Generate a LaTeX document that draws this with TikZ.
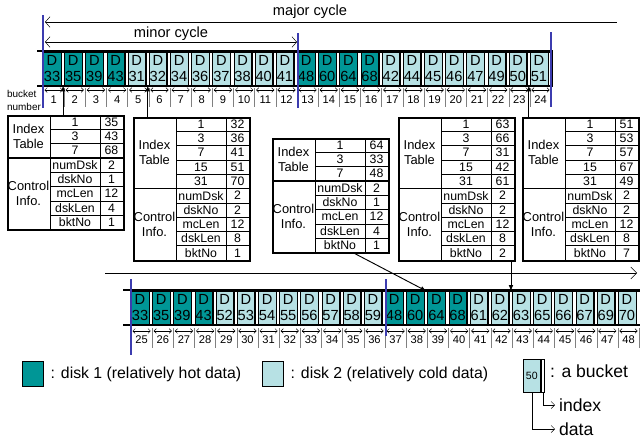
\documentclass[tikz,border=0pt]{standalone}
\usepackage{fontspec}
\setmainfont{Liberation Sans}
\usetikzlibrary{arrows.meta}

\definecolor{hot}{RGB}{0,150,150}
\definecolor{cold}{RGB}{183,225,228}
\definecolor{cyc}{RGB}{60,60,175}

\tikzset{
  cell/.style={draw, thin, minimum width=0.528cm, minimum height=0.99cm, inner sep=0pt, align=center, font=\fontsize{12.5}{14}\selectfont},
  idx/.style={draw, thin, fill=white, minimum width=0.107cm, minimum height=0.99cm, inner sep=0pt, anchor=west},
  bkt/.style={thin, {Straight Barb[length=2pt,width=4pt]}-{Straight Barb[length=2pt,width=4pt]}},
  bsep/.style={gray, thin},
  bnum/.style={font=\fontsize{9.5}{10}\selectfont, inner sep=0pt},
  rail/.style={line width=2pt},
  cycline/.style={cyc, line width=1.6pt},
  spanarr/.style={thin, {Straight Barb[length=4pt,width=9pt]}-{Straight Barb[length=4pt,width=9pt]}},
  tkey/.style={minimum width=1.5cm, minimum height=0.429cm, inner sep=0pt, font=\fontsize{10.5}{12}\selectfont},
  tval/.style={tkey, minimum width=0.69cm},
  tlab/.style={align=center, font=\fontsize{11}{13}\selectfont},
  infotab/.style={draw, line width=1.6pt, minimum width=3.48cm, inner sep=0pt, anchor=north west},
  conn/.style={line width=0.8pt, -{Latex[length=5pt,width=4pt]}},
  legtext/.style={anchor=west, font=\fontsize{13.5}{15}\selectfont},
  bigtext/.style={anchor=west, font=\fontsize{15}{17}\selectfont},
  legarr/.style={thin, -{Straight Barb[length=3pt,width=6pt]}}
}

% x, y, name, number of index rows, index rows, control rows
\newcommand{\infotable}[6]{%
  \pgfmathsetmacro\tabi{#4*14.3}
  \pgfmathsetmacro\tabh{(#4+5)*14.3}
  \node[infotab, minimum height=\tabh*0.03cm] (#3) at (#1,#2) {};
  \begin{scope}[shift={(#1,#2)}]
    \foreach \k/\v [count=\r] in {#5} {
      \node[tkey] at (68,\r*14.3-7.15) {\k};
      \node[tval] at (104.5,\r*14.3-7.15) {\v};
      \draw[thin] (43,\r*14.3) -- (116,\r*14.3);
    }
    \foreach \k/\v [count=\r] in {#6} {
      \node[tkey] (#3c\r) at (68,\tabi+\r*14.3-7.15) {\k};
      \node[tval] at (104.5,\tabi+\r*14.3-7.15) {\v};
      \draw[thin] (43,\tabi+\r*14.3) -- (116,\tabi+\r*14.3);
    }
    \draw[thin] (43,0) -- (43,\tabh);
    \draw[thin] (93,0) -- (93,\tabh);
    \draw[line width=1.6pt] (0,\tabi) -- (116,\tabi);
    \node[tlab] at (21.5,\tabi/2) {Index\\Table};
    \node[tlab] at (21.5,\tabi+35.75) {Control\\Info.};
  \end{scope}}

\begin{document}
\begin{tikzpicture}[x=0.03cm, y=-0.03cm]
\useasboundingbox (0,0) rectangle (640,439);

% upper broadcast
\foreach \v/\c [count=\i] in {33/hot,35/hot,39/hot,43/hot,31/cold,32/cold,34/cold,36/cold,37/cold,38/cold,40/cold,41/cold,48/hot,60/hot,64/hot,68/hot,42/cold,44/cold,45/cold,46/cold,47/cold,49/cold,50/cold,51/cold} {
  \pgfmathsetmacro\xa{43+(\i-1)*21.17}
  \node[cell, fill=\c, anchor=north west] (t\i) at (\xa,52) {D\\\v};
  \node[idx] (ti\i) at (t\i.east) {};
  \draw[bkt] (\xa+1.5,90) -- (\xa+19.7,90);
  \draw[bsep] (\xa+21.17,88) -- (\xa+21.17,107);
  \node[bnum] (tn\i) at (\xa+10.6,99.5) {\i};
}
\draw[rail] (37,51) -- (553,51);
\draw[rail] (37,86) -- (553,86);
\draw[cycline] (43,15) -- (43,108);
\draw[cycline] (298,33) -- (298,108);
\draw[cycline] (551,32) -- (551,107);
\draw[thin, {Straight Barb[length=4pt,width=9pt]}-] (45,22) -- (617,22);
\node[font=\fontsize{12.5}{14}\selectfont] (major) at (310,12) {major cycle};
\draw[spanarr] (45,42) -- (297,42);
\node[font=\fontsize{12.5}{14}\selectfont] (minor) at (171,34) {minor cycle};
\node[font=\fontsize{8.5}{11}\selectfont, align=left, inner sep=0pt] (bnlab) at (24,100.5) {bucket\\number};

% lower broadcast
\foreach \v/\c [count=\i] in {33/hot,35/hot,39/hot,43/hot,52/cold,53/cold,54/cold,55/cold,56/cold,57/cold,58/cold,59/cold,48/hot,60/hot,64/hot,68/hot,61/cold,62/cold,63/cold,65/cold,66/cold,67/cold,69/cold,70/cold} {
  \pgfmathsetmacro\xa{131+(\i-1)*21.17}
  \pgfmathtruncatemacro\n{\i+24}
  \node[cell, fill=\c, anchor=north west] (b\n) at (\xa,291) {D\\\v};
  \node[idx] (bi\n) at (b\n.east) {};
  \draw[bkt] (\xa+1.5,331) -- (\xa+19.7,331);
  \draw[bsep] (\xa+21.17,328) -- (\xa+21.17,348);
  \node[bnum] (bn\n) at (\xa+10.6,340) {\n};
}
\draw[rail] (123,290) -- (640,290);
\draw[rail] (123,325) -- (640,325);
\draw[cycline] (131,279) -- (131,355);
\draw[cycline] (386,279) -- (386,336);
\draw[thin, -{Straight Barb[length=5pt,width=10pt]}] (105,273) -- (637,273);

% tables
\infotable{7}{115}{tab1}{3}{1/35,3/43,7/68}{numDsk/2,dskNo/1,mcLen/12,dskLen/4,bktNo/1}
\infotable{133}{117}{tab2}{5}{1/32,3/36,7/41,15/51,31/70}{numDsk/2,dskNo/2,mcLen/12,dskLen/8,bktNo/1}
\infotable{272}{138}{tab3}{3}{1/64,3/33,7/48}{numDsk/2,dskNo/1,mcLen/12,dskLen/4,bktNo/1}
\infotable{398}{117}{tab4}{5}{1/63,3/66,7/31,15/42,31/61}{numDsk/2,dskNo/2,mcLen/12,dskLen/8,bktNo/2}
\infotable{522}{117}{tab5}{5}{1/51,3/53,7/57,15/67,31/49}{numDsk/2,dskNo/2,mcLen/12,dskLen/8,bktNo/7}

\draw[conn] (tab1.north -| ti1.south) -- (ti1.south);
\draw[conn] (tab2.north -| ti5.south) -- (ti5.south);
\draw[conn] (tab5.north -| ti23.south) -- (ti23.south);
\draw[conn] ([xshift=0.39cm]tab3c5.south) -- (bi38.north);
\draw[conn] (tab4.south -| bi42.north) -- (bi42.north);

% legend
\node[draw, thin, fill=hot, minimum width=0.63cm, minimum height=0.75cm, inner sep=0pt] (lghot) at (32.5,374) {};
\node[legtext] (lghott) at ([xshift=0.1cm]lghot.east) {: disk 1 (relatively hot data)};
\node[draw, thin, fill=cold, minimum width=0.63cm, minimum height=0.75cm, inner sep=0pt] (lgcold) at (272.5,374) {};
\node[legtext] (lgcoldt) at ([xshift=0.1cm]lgcold.east) {: disk 2 (relatively cold data)};
\node[cell, fill=cold, font=\fontsize{9}{10}\selectfont] (lgb) at (531.8,375.5) {50};
\node[idx] (lgi) at (lgb.east) {};
\node[bigtext] (lgbt) at (546,371) {: a bucket};
\node[bigtext] (lgidx) at (555,405) {index};
\node[bigtext] (lgdat) at (555,429) {data};
\draw[legarr] (lgi.south) |- (lgidx.west);
\draw[legarr] (lgb.south) |- (lgdat.west);
\end{tikzpicture}
\end{document}
